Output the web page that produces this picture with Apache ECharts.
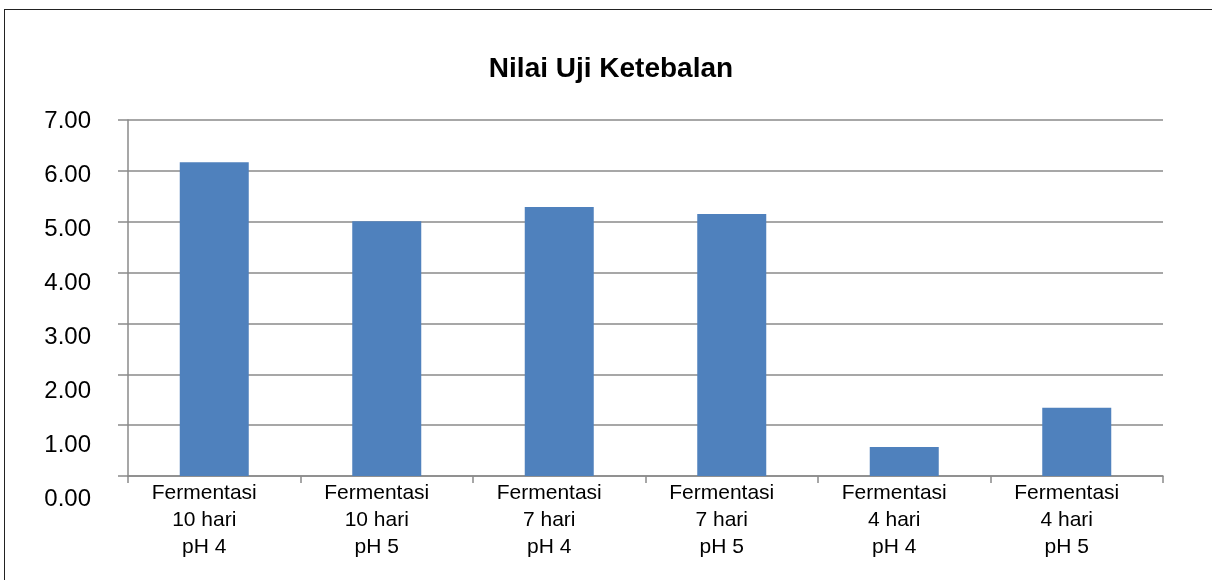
<!DOCTYPE html>
<html>
<head>
<meta charset="utf-8">
<script src="https://cdn.jsdelivr.net/npm/echarts@6/dist/echarts.min.js"></script>
<style>
  html, body { margin: 0; padding: 0; background: #fff; }
  #wrap { position: relative; width: 1212px; height: 580px; overflow: hidden; }
  #chart { width: 1212px; height: 580px; }
  /* frame of the original picture: only left and top edges visible */
  .frame { position: absolute; left: 4px; top: 9px; width: 1300px; height: 700px;
           border-left: 1.5px solid #222; border-top: 1.5px solid #222; pointer-events: none; }
</style>
</head>
<body>
<div id="wrap">
  <div id="chart"></div>
  <div class="frame"></div>
</div>
<script>
// data
const categories = [
  "Fermentasi\n10 hari\npH 4",
  "Fermentasi\n10 hari\npH 5",
  "Fermentasi\n7 hari\npH 4",
  "Fermentasi\n7 hari\npH 5",
  "Fermentasi\n4 hari\npH 4",
  "Fermentasi\n4 hari\npH 5"
];
const values = [6.17, 5.01, 5.29, 5.15, 0.57, 1.34];
const yMin = 0;
const yMax = 7;
const yStep = 1;

const font = "'Liberation Sans', Arial, sans-serif";
const gridColor = "#8a8a8a";

let myChart = echarts.init(document.getElementById("chart"));
myChart.setOption({
  animation: false,
  textStyle: { fontFamily: font },
  title: {
    text: "Nilai Uji Ketebalan",
    left: 606,
    top: 50,
    textAlign: "center",
    padding: 5,
    textStyle: { fontSize: 28, fontWeight: "bold", color: "#000", fontFamily: font }
  },
  grid: [
    // bars
    { left: 128, right: 49, top: 120, bottom: 104, containLabel: false },
    // y tick labels only (the original spreads them slightly)
    { left: 128, right: 49, top: 121, bottom: 81, containLabel: false }
  ],
  xAxis: [
    {
      type: "category",
      gridIndex: 0,
      data: categories,
      axisLine: { show: true, lineStyle: { color: gridColor, width: 1.5 } },
      axisTick: { show: true, length: 7, lineStyle: { color: gridColor, width: 1.5 } },
      axisLabel: {
        color: "#000",
        fontSize: 21,
        lineHeight: 27,
        margin: 4,
        padding: [0, 20, 0, 0],
        fontFamily: font
      }
    },
    { type: "category", gridIndex: 1, data: categories, show: false }
  ],
  yAxis: [
    {
      type: "value",
      gridIndex: 0,
      min: yMin,
      max: yMax,
      interval: yStep,
      axisLine: { show: true, lineStyle: { color: gridColor, width: 1.5 } },
      axisTick: { show: true, length: 10, lineStyle: { color: gridColor, width: 1.5 } },
      axisLabel: { show: false },
      splitLine: { show: true, lineStyle: { color: gridColor, width: 1.5 } }
    },
    {
      type: "value",
      gridIndex: 1,
      min: yMin,
      max: yMax,
      interval: yStep,
      axisLine: { show: false },
      axisTick: { show: false },
      splitLine: { show: false },
      axisLabel: {
        color: "#000",
        fontSize: 24,
        margin: 37,
        fontFamily: font,
        formatter: function (v) { return v.toFixed(2); }
      }
    }
  ],
  series: [
    {
      name: "Nilai Uji Ketebalan",
      type: "bar",
      xAxisIndex: 0,
      yAxisIndex: 0,
      data: values,
      barWidth: "40%",
      itemStyle: { color: "#4F81BD" }
    }
  ]
});
</script>
</body>
</html>
